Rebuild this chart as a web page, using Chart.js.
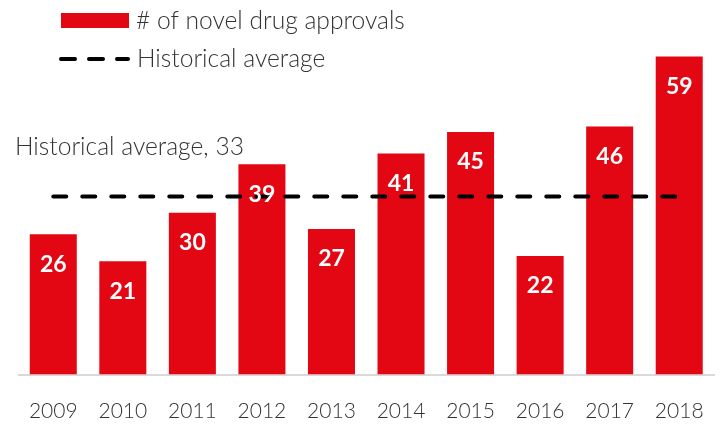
<!DOCTYPE html>
<html>
<head>
<meta charset="utf-8">
<script src="https://cdn.jsdelivr.net/npm/chart.js@4/dist/chart.umd.min.js"></script>
<style>
  html, body { margin: 0; padding: 0; background: #fff; }
  #wrap { width: 722px; height: 424px; }
</style>
</head>
<body>
<div id="wrap"><canvas id="chart" width="722" height="424"></canvas></div>
<script>
// Data
const years = ['2009', '2010', '2011', '2012', '2013', '2014', '2015', '2016', '2017', '2018'];
const approvals = [26, 21, 30, 39, 27, 41, 45, 22, 46, 59];
const historicalAverage = 33;
const averageLine = years.map(() => historicalAverage);

const RED = '#e30613';
const TEXT = '#333333';
const FONT = 'Lato, "Noto Sans", sans-serif';

// Value labels inside each bar, near the top
const barLabels = {
    id: 'barLabels',
    afterDatasetsDraw(chart) {
        const ctx = chart.ctx;
        const meta = chart.getDatasetMeta(0);
        ctx.save();
        ctx.fillStyle = '#ffffff';
        ctx.font = 'bold 23px ' + FONT;
        ctx.textAlign = 'center';
        ctx.textBaseline = 'middle';
        meta.data.forEach((bar, i) => {
            ctx.fillText(approvals[i], bar.x, bar.y + 30);
        });
        ctx.restore();
    }
};

// Legend + average caption drawn by hand
const customLegend = {
    id: 'customLegend',
    afterDraw(chart) {
        const ctx = chart.ctx;
        const y = chart.scales.y;
        ctx.save();
        ctx.font = '300 24.6px ' + FONT;
        ctx.textBaseline = 'middle';
        ctx.textAlign = 'left';

        // bar entry
        ctx.fillStyle = RED;
        ctx.fillRect(61, 13, 68, 15);
        ctx.fillStyle = TEXT;
        ctx.fillText(chart.data.datasets[0].label, 136, 21);

        // dashed line entry
        ctx.strokeStyle = '#000';
        ctx.lineWidth = 4;
        ctx.lineCap = 'round';
        ctx.setLineDash([14, 14]);
        ctx.beginPath();
        ctx.moveTo(61, 59);
        ctx.lineTo(128, 59);
        ctx.stroke();
        ctx.setLineDash([]);
        ctx.fillText(chart.data.datasets[1].label, 137, 59);

        // caption above the average line
        ctx.fillText('Historical average, ' + historicalAverage, 15, y.getPixelForValue(historicalAverage) - 50);
        ctx.restore();
    }
};

new Chart(document.getElementById('chart'), {
    type: 'bar',
    data: {
        labels: years,
        datasets: [
            {
                label: '# of novel drug approvals',
                data: approvals,
                backgroundColor: RED,
                categoryPercentage: 1,
                barPercentage: 0.676,
                order: 2
            },
            {
                type: 'line',
                label: 'Historical average',
                data: averageLine,
                borderColor: '#000',
                borderWidth: 4,
                borderDash: [13, 16],
                borderCapStyle: 'round',
                pointRadius: 0,
                fill: false,
                order: 1
            }
        ]
    },
    options: {
        responsive: false,
        animation: false,
        layout: { padding: { top: 51, left: 18.5, right: 8, bottom: 0 } },
        plugins: {
            legend: { display: false },
            tooltip: { enabled: false }
        },
        scales: {
            x: {
                grid: { display: false, drawTicks: false },
                border: { color: '#d9d9d9', width: 2 },
                ticks: {
                    color: TEXT,
                    padding: 24,
                    font: { family: FONT, size: 21, weight: '300' }
                },
                // fixed axis band, and no extra side padding from the tick labels
                afterFit(scale) {
                    scale.height = 49.5;
                    scale.paddingLeft = 0;
                    scale.paddingRight = 0;
                }
            },
            y: {
                display: false,
                min: 0,
                max: 60
            }
        }
    },
    plugins: [barLabels, customLegend]
});
</script>
</body>
</html>
